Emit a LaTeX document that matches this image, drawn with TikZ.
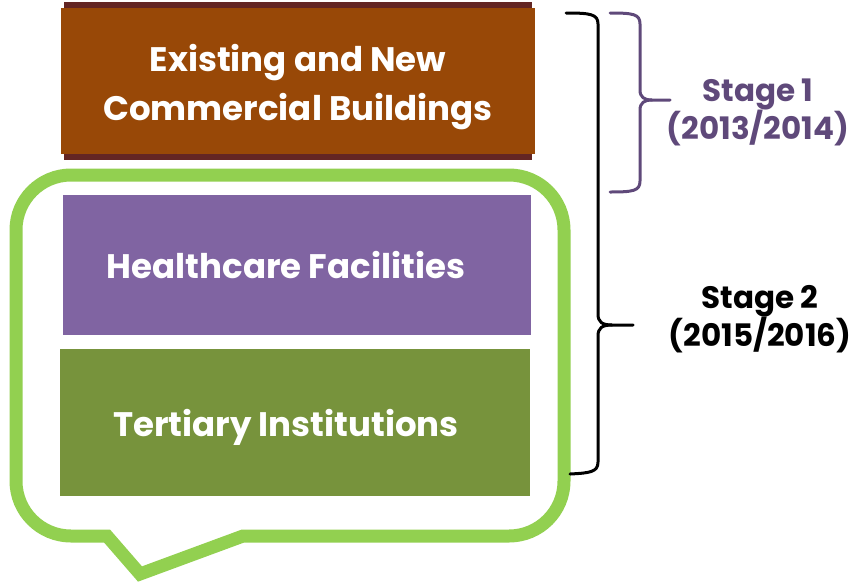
\documentclass[tikz,border=0pt]{standalone}
\usepackage{fontspec}
\setmainfont{Poppins}
\usetikzlibrary{positioning}

\definecolor{bandred}{HTML}{632523}
\definecolor{brownfill}{HTML}{984807}
\definecolor{healthpurple}{HTML}{8064A2}
\definecolor{tertiaryolive}{HTML}{77933C}
\definecolor{bubblegreen}{HTML}{92D050}
\definecolor{stagepurple}{HTML}{5F497A}

\begin{document}
\begin{tikzpicture}[x=1pt,y=-1pt,
    box/.style={inner sep=0pt, outer sep=0pt},
    boxtext/.style={text=white, align=center, inner sep=0pt,
      font=\bfseries\fontsize{34}{49}\selectfont},
    stagetext/.style={align=center, inner sep=0pt,
      font=\bfseries\fontsize{31}{38}\selectfont},
    brace/.style={line width=3pt, line cap=round, line join=round},
    bubble/.style={draw=bubblegreen, line width=13pt}]
    \useasboundingbox (0,0) rectangle (866,584);

    % stage 1 block
    \node[box, fill=bandred, minimum width=468pt, minimum height=158pt] (band) at (298,81) {};
    \node[box, fill=brownfill, minimum width=474pt, minimum height=146pt] (commercial) at (298,81) {};
    \node[boxtext] (commercial_text) at ([yshift=-6pt]commercial.center) {Existing and New\\Commercial Buildings};

    % stage 2 blocks
    \node[box, fill=healthpurple, minimum width=468pt, minimum height=140pt] (health) at (297,265) {};
    \node[boxtext] (health_text) at ([xshift=-11pt]health.center) {Healthcare Facilities};
    \node[box, fill=tertiaryolive, minimum width=470pt, minimum height=147pt] (tertiary) at (295,422.5) {};
    \node[boxtext] (tertiary_text) at ([xshift=-9pt,yshift=-5pt]tertiary.center) {Tertiary Institutions};

    % speech bubble
    \draw[bubble] (107,536) -- (140,574) -- (243,536) -- (509,536)
        .. controls (539.4,536) and (564,511.4) .. (564,481) -- (564,230)
        .. controls (564,199.6) and (539.4,175) .. (509,175) -- (71,175)
        .. controls (40.6,175) and (16,199.6) .. (16,230) -- (16,481)
        .. controls (16,511.4) and (40.6,536) .. (71,536) -- cycle;

    % braces
    \draw[brace] (566,13) .. controls (590,13) and (598,14) .. (598,24) -- (598,314)
        .. controls (598,322) and (602,325) .. (612,325) -- (633,325);
    \draw[brace] (612,325) .. controls (602,325) and (598,328) .. (598,336) -- (598,462)
        .. controls (598,472) and (590,473) .. (570,474);
    \draw[brace, draw=stagepurple] (610,13) .. controls (633,13) and (640,14) .. (640,24) -- (640,90)
        .. controls (640,97) and (644,100) .. (652,100) -- (670,100);
    \draw[brace, draw=stagepurple] (652,100) .. controls (644,100) and (640,103) .. (640,110) -- (640,181)
        .. controls (640,191) and (633,192) .. (610,192);

    \node[stagetext, text=stagepurple] (stage_one) at (758,112) {Stage 1\\(2013/2014)};
    \node[stagetext] (stage_two) at (760,319) {Stage 2\\(2015/2016)};
\end{tikzpicture}
\end{document}
